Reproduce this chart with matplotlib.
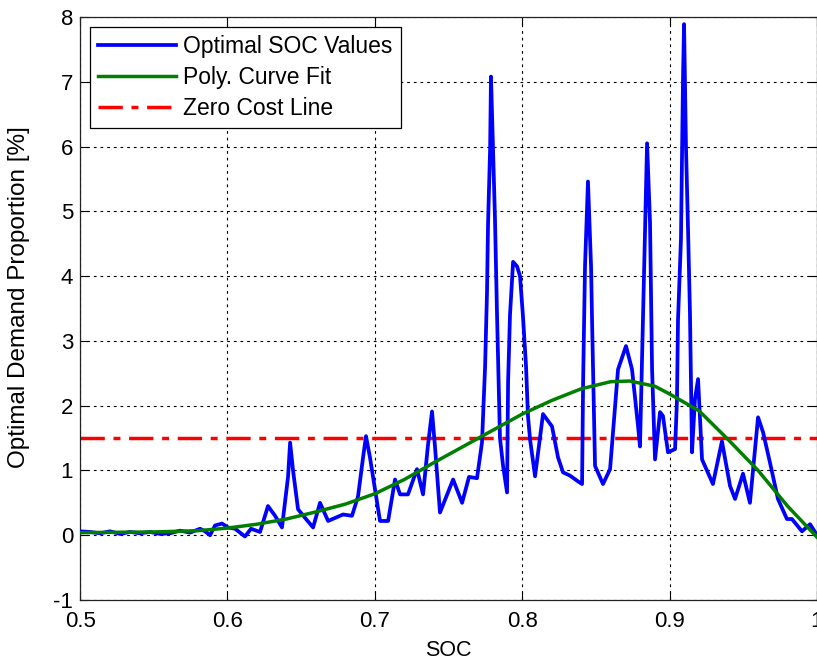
import matplotlib
matplotlib.use("Agg")
import matplotlib.pyplot as plt

plt.rcParams['font.family'] = ['Liberation Sans', 'DejaVu Sans']
plt.rcParams['axes.unicode_minus'] = False

# optimal SOC values
soc = [0.5, 0.5068, 0.5136, 0.5204, 0.5271, 0.5339, 0.5407, 0.5475, 0.5543, 0.5611,
       0.5678, 0.5746, 0.5814, 0.5848, 0.5882, 0.5916, 0.5963, 0.6004, 0.6052, 0.6119,
       0.6160, 0.6221, 0.6275, 0.6323, 0.6370, 0.6411, 0.6425, 0.6445, 0.6479, 0.6533,
       0.6581, 0.6628, 0.6683, 0.6784, 0.6845, 0.6886, 0.6920, 0.6940, 0.6967, 0.6995,
       0.7035, 0.7090, 0.7137, 0.7171, 0.7225, 0.7286, 0.7327, 0.7361, 0.7388, 0.7408,
       0.7442, 0.7531, 0.7592, 0.7639, 0.7693, 0.7727, 0.7748, 0.7761, 0.7768, 0.7782,
       0.7788, 0.7802, 0.7815, 0.7829, 0.7849, 0.7870, 0.7897, 0.7904, 0.7917, 0.7938,
       0.7965, 0.7985, 0.8005, 0.8026, 0.8039, 0.8053, 0.8087, 0.8141, 0.8202, 0.8243,
       0.8277, 0.8324, 0.8379, 0.8406, 0.8413, 0.8426, 0.8446, 0.8467, 0.8474, 0.8494,
       0.8548, 0.8596, 0.8616, 0.8650, 0.8704, 0.8745, 0.8786, 0.8799, 0.8820, 0.8833,
       0.8847, 0.8867, 0.8881, 0.8901, 0.8935, 0.8955, 0.8989, 0.9037, 0.9050, 0.9057,
       0.9077, 0.9084, 0.9091, 0.9098, 0.9111, 0.9125, 0.9138, 0.9152, 0.9172, 0.9193,
       0.9220, 0.9294, 0.9355, 0.9410, 0.9444, 0.9498, 0.9545, 0.9600, 0.9634, 0.9681,
       0.9735, 0.9796, 0.9830, 0.9898, 0.9953, 1.0]
demand = [0.06, 0.05, 0.03, 0.06, 0.02, 0.05, 0.03, 0.05, 0.02, 0.03,
          0.07, 0.04, 0.10, 0.06, 0.0, 0.15, 0.18, 0.12, 0.10, -0.02,
          0.10, 0.05, 0.45, 0.30, 0.12, 0.90, 1.43, 1.00, 0.40, 0.25,
          0.12, 0.50, 0.22, 0.32, 0.30, 0.60, 1.20, 1.53, 1.20, 0.80,
          0.22, 0.22, 0.86, 0.63, 0.63, 1.02, 0.63, 1.40, 1.91, 1.37,
          0.35, 0.86, 0.50, 0.90, 0.88, 1.43, 2.60, 3.75, 4.80, 5.96,
          7.08, 5.96, 4.90, 3.40, 1.50, 1.07, 0.66, 2.36, 3.40, 4.22,
          4.15, 4.00, 3.38, 2.60, 1.84, 1.48, 0.91, 1.87, 1.68, 1.20,
          0.97, 0.92, 0.83, 0.79, 2.36, 4.15, 5.46, 4.15, 3.29, 1.07,
          0.79, 1.02, 1.59, 2.56, 2.92, 2.56, 1.68, 1.37, 3.38, 4.68,
          6.05, 4.83, 2.56, 1.17, 1.90, 1.84, 1.28, 1.33, 2.10, 3.33,
          4.57, 5.80, 7.08, 7.89, 6.00, 4.72, 3.44, 1.28, 2.10, 2.41,
          1.17, 0.79, 1.45, 0.76, 0.56, 0.95, 0.50, 1.82, 1.59, 1.12,
          0.56, 0.25, 0.25, 0.06, 0.17, 0.0]

# polynomial fit curve
fit_soc = [0.5, 0.55, 0.58, 0.6, 0.62, 0.64, 0.66, 0.68, 0.70, 0.72, 0.74, 0.76,
           0.78, 0.80, 0.82, 0.84, 0.86, 0.873, 0.89, 0.90, 0.92, 0.94, 0.96, 0.98, 1.0]
fit_val = [0.04, 0.05, 0.07, 0.11, 0.17, 0.25, 0.36, 0.48, 0.64, 0.86, 1.12, 1.37,
           1.62, 1.87, 2.08, 2.26, 2.37, 2.38, 2.30, 2.18, 1.92, 1.47, 1.00, 0.45, -0.03]

zero_cost = 1.5

xticks = [0.5, 0.6, 0.7, 0.8, 0.9, 1.0]
xticklabels = ['0.5', '0.6', '0.7', '0.8', '0.9', '1']
yticks = list(range(-1, 9))

fig = plt.figure(figsize=(8.17, 6.64), dpi=100)
ax = fig.add_axes([0.098, 0.0964, 0.902, 0.8780])

ax.plot(soc, demand, color='#0000ff', lw=2.7, label='Optimal SOC Values', zorder=3)
ax.plot(fit_soc, fit_val, color='#007f00', lw=2.5, label='Poly. Curve Fit', zorder=4)
ax.axhline(zero_cost, color='#ff0000', lw=2.5, dashes=(7, 2.5, 2, 2.5),
           label='Zero Cost Line', zorder=2)

ax.set_xlim(0.5, 1.0)
ax.set_ylim(-1, 8)
ax.set_xticks(xticks)
ax.set_xticklabels(xticklabels)
ax.set_yticks(yticks)
ax.tick_params(direction='in', length=6, width=0.8, labelsize=16,
               top=True, right=True)
ax.tick_params(axis='x', pad=8)
ax.tick_params(axis='y', pad=5)
ax.grid(True, color='black', linestyle=(0, (2.5, 3.5)), linewidth=0.8)
for s in ax.spines.values():
    s.set_linewidth(0.9)
    s.set_color('#222222')

ax.set_xlabel('SOC', fontsize=15.5, labelpad=6)
ax.set_ylabel('Optimal Demand Proportion [%]', fontsize=17.5)
ax.yaxis.set_label_coords(-0.068, 0.52)

leg = ax.legend(loc='upper left', fontsize=16.5, handlelength=3.4, handletextpad=0.3,
                borderpad=0.35, labelspacing=0.35, fancybox=False, framealpha=1,
                edgecolor='black', borderaxespad=0.45)
leg.get_frame().set_linewidth(0.9)

fig.savefig('out.png', dpi=100)
